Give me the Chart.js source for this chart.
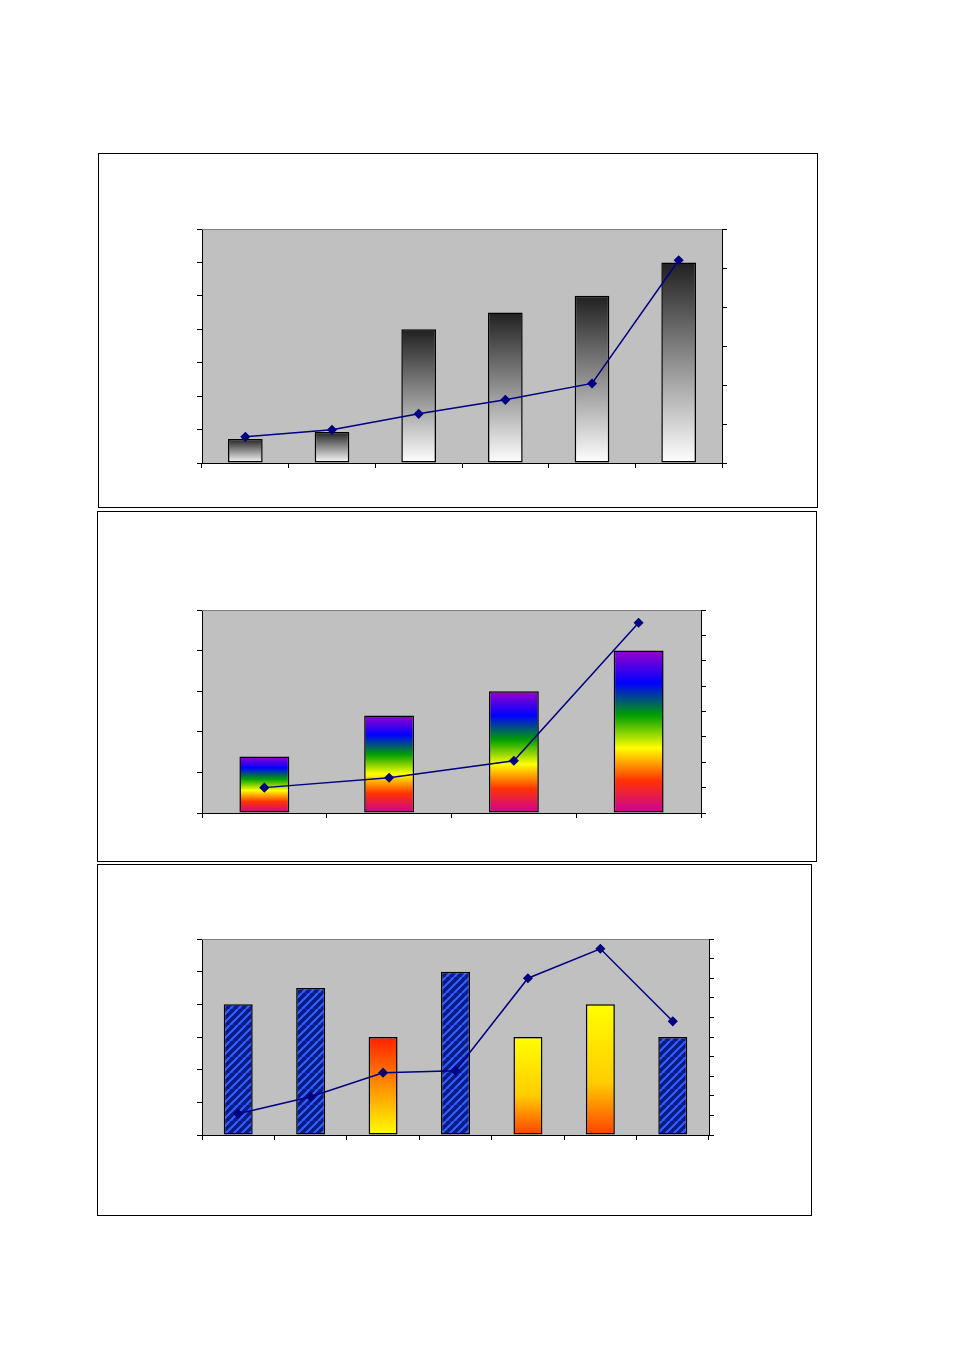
<!DOCTYPE html>
<html><head><meta charset="utf-8">
<script src="https://cdn.jsdelivr.net/npm/chart.js@4.4.1/dist/chart.umd.min.js"></script>
<style>
body{margin:0;width:954px;height:1351px;background:#fff;position:relative}
.box{position:absolute;border:1px solid #000;box-sizing:border-box}
canvas{display:block}
</style></head><body>
<div class="box" style="left:98px;top:153px;width:720px;height:355px"><canvas id="c1"></canvas></div>
<div class="box" style="left:97px;top:511px;width:720px;height:351px"><canvas id="c2"></canvas></div>
<div class="box" style="left:97px;top:864px;width:715px;height:352px"><canvas id="c3"></canvas></div>
<script>
// Chart 1
const cats1 = ['1','2','3','4','5','6'];
const bars1 = [0.72, 0.93, 4.0, 4.5, 5.0, 6.0];
const line1 = [0.67, 0.85, 1.26, 1.62, 2.04, 5.2];
// Chart 2
const cats2 = ['1','2','3','4'];
const bars2 = [1.39, 2.4, 3.0, 4.0];
const line2 = [1.0, 1.39, 2.06, 7.5];
// Chart 3
const cats3 = ['1','2','3','4','5','6','7'];
const bars3 = [4, 4.5, 3, 5, 3, 4, 3];
const line3 = [1.08, 1.95, 3.18, 3.28, 8.0, 9.5, 5.8];
const styles3 = ['blue','blue','redyellow','blue','yelloworange','yelloworange','blue'];

const bgPlugin = {
  id:'bg',
  beforeDraw(chart){
    const a=chart.chartArea, c=chart.ctx;
    c.save(); c.fillStyle='#c0c0c0'; c.fillRect(a.left,a.top,a.right-a.left,a.bottom-a.top); c.restore();
  },
  afterDraw(chart){
    const a=chart.chartArea, c=chart.ctx;
    c.save(); c.strokeStyle='#808080'; c.lineWidth=1;
    c.beginPath(); c.moveTo(a.left,a.top+0.5); c.lineTo(a.right,a.top+0.5); c.stroke(); c.restore();
  }
};

let stripePat=null;
function stripes(ctx){
  if(stripePat) return stripePat;
  const p=document.createElement('canvas'); p.width=16; p.height=16;
  const g=p.getContext('2d');
  g.fillStyle='#1030c0'; g.fillRect(0,0,16,16);
  g.strokeStyle='#0a1a80'; g.lineWidth=4;
  for(let i=-16;i<=32;i+=8){ g.beginPath(); g.moveTo(i,16); g.lineTo(i+16,0); g.stroke(); }
  g.strokeStyle='#3060ff'; g.lineWidth=2;
  for(let i=-12;i<=36;i+=8){ g.beginPath(); g.moveTo(i,16); g.lineTo(i+16,0); g.stroke(); }
  stripePat=ctx.createPattern(p,'repeat');
  return stripePat;
}

function barFill(kind){
  return function(context){
    const chart=context.chart; const a=chart.chartArea;
    if(!a) return '#888';
    const y=chart.scales.y; const v=context.raw;
    const top=y.getPixelForValue(v), bot=y.getPixelForValue(0);
    const k = typeof kind==='function'? kind(context.dataIndex): kind;
    const c=chart.ctx;
    if(k==='blue') return stripes(c);
    const g=c.createLinearGradient(0,top,0,bot);
    if(k==='gray'){ g.addColorStop(0,'#202020'); g.addColorStop(1,'#ffffff'); }
    else if(k==='rainbow'){
      g.addColorStop(0,'#9900cc'); g.addColorStop(0.2,'#0000ff'); g.addColorStop(0.4,'#00a000');
      g.addColorStop(0.6,'#ffff00'); g.addColorStop(0.8,'#ff3300'); g.addColorStop(1,'#cc0099');
    } else if(k==='redyellow'){ g.addColorStop(0,'#ff2000'); g.addColorStop(1,'#ffff00'); }
    else { g.addColorStop(0,'#ffff00'); g.addColorStop(0.6,'#ffcc00'); g.addColorStop(1,'#ff4000'); }
    return g;
  };
}

function make(id, cats, bars, line, yMax, yStep, y2Max, y2Step, fill, pad){
  new Chart(document.getElementById(id),{
    data:{labels:cats,datasets:[
      {type:'line',data:line,yAxisID:'y2',borderColor:'#000080',borderWidth:1.5,backgroundColor:'#000080',
       pointStyle:'rectRot',pointRadius:4,pointBackgroundColor:'#000080',tension:0,order:0},
      {type:'bar',data:bars,yAxisID:'y',backgroundColor:barFill(fill),borderColor:'#000',borderWidth:1.5,
       borderSkipped:false,barPercentage:0.4,categoryPercentage:1,order:1}
    ]},
    options:{responsive:true,maintainAspectRatio:false,animation:false,
      layout:{padding:pad},
      plugins:{legend:{display:false},tooltip:{enabled:false}},
      scales:{
        x:{ticks:{display:false},grid:{drawOnChartArea:false,drawTicks:true,tickLength:5,color:'#000',offset:true},border:{color:'#000'}},
        y:{position:'left',min:0,max:yMax,ticks:{display:false,stepSize:yStep},grid:{drawOnChartArea:false,tickLength:5,color:'#000'},border:{color:'#000'}},
        y2:{position:'right',min:0,max:y2Max,ticks:{display:false,stepSize:y2Step},grid:{drawOnChartArea:false,tickLength:5,color:'#000'},border:{color:'#000'}}
      }},
    plugins:[bgPlugin]
  });
}
make('c1',cats1,bars1,line1,7,1,6,1,'gray',{left:98,right:90,top:75,bottom:39});
make('c2',cats2,bars2,line2,5,1,8,1,'rainbow',{left:99,right:110,top:98,bottom:43});
make('c3',cats3,bars3,line3,6,1,10,1,(i)=>styles3[i],{left:99,right:97,top:74,bottom:75});
</script>
</body></html>
